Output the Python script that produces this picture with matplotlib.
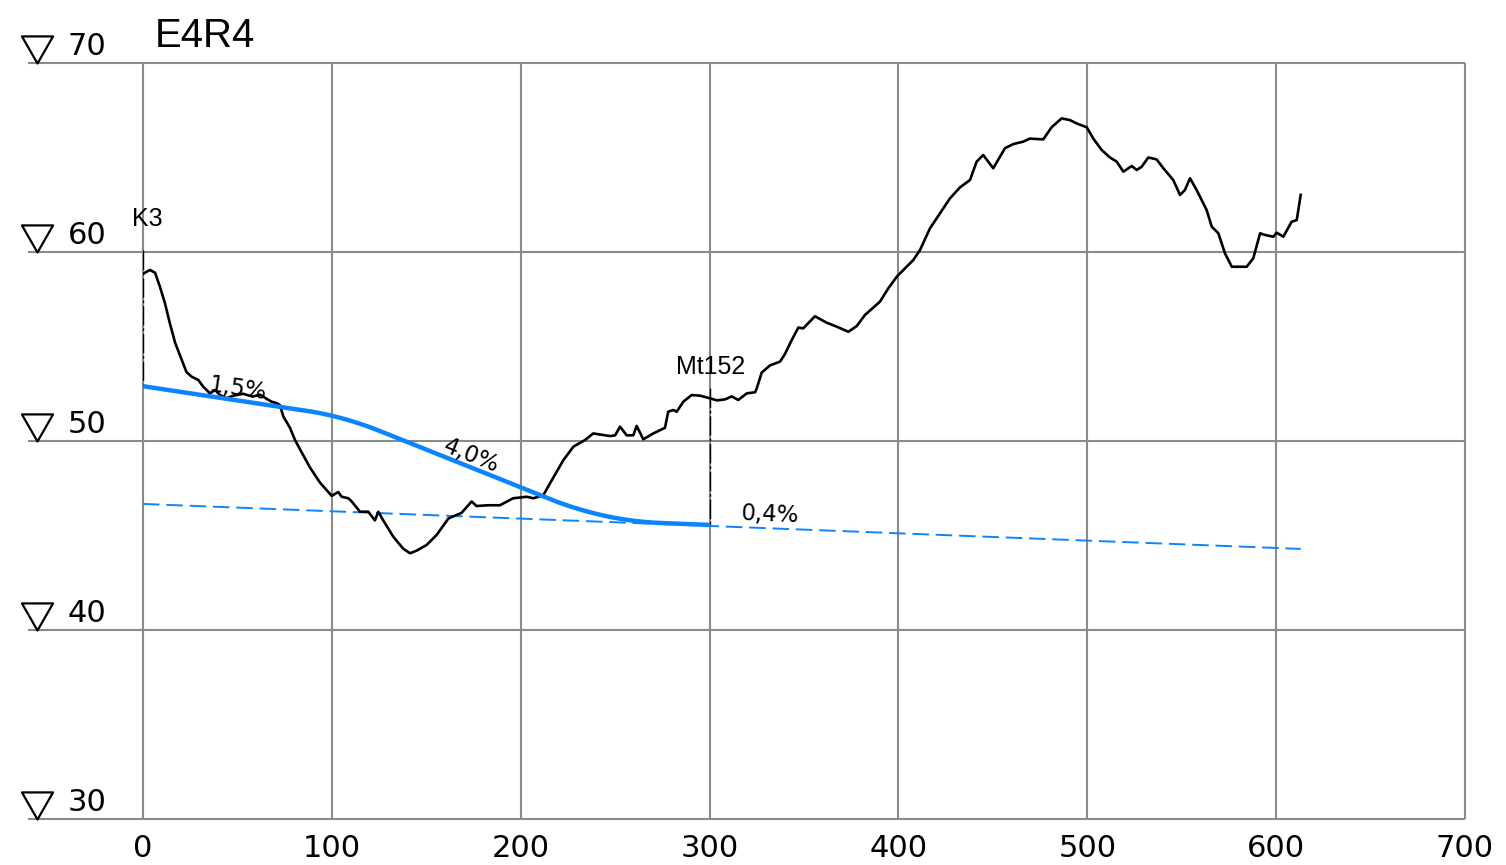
import numpy as np
import matplotlib
matplotlib.use("Agg")
import matplotlib.pyplot as plt
from matplotlib.path import Path

# ---------------- data ----------------
title = "E4R4"
x_ticks = [0, 100, 200, 300, 400, 500, 600, 700]
y_ticks = [30, 40, 50, 60, 70]

ground_sta = [0, 3.7, 6.4, 9, 11.6, 14.3, 17, 20.5, 23, 25.8, 29.3, 31.9, 35.5, 38.1,
              40.8, 44.3, 48, 53, 58, 62, 66, 68.1, 70.8, 72.5, 74.3, 77.8, 80.5, 84,
              88.4, 93.7, 99.9, 103.4, 105.2, 108.7, 110.5, 114.9, 119.3, 122.8, 124.6,
              127.2, 132.5, 137.8, 141.4, 144.9, 150.2, 155.5, 161.7, 168.7, 174, 176.6,
              182.8, 189, 196, 203.2, 206.7, 212, 215.5, 222.6, 227.9, 234, 238.4, 247.3,
              250, 252.6, 256.1, 259.6, 261.4, 264.9, 270.2, 276.4, 278.1, 280.8, 282.6,
              286.1, 290.5, 294.9, 300.2, 303.8, 308.2, 311.7, 315.2, 319.7, 324.1, 325,
              327.6, 332, 337.3, 339.9, 343.5, 347, 349.6, 355.8, 362, 367.3, 373.5,
              377.9, 382.3, 390.2, 394.6, 399.1, 407.9, 411.4, 416.7, 422, 427.3, 432.6,
              437.9, 441.4, 444.9, 450.2, 456.4, 460.8, 466.1, 469.6, 476.7, 481.1, 486.4,
              490.8, 494.4, 499.7, 503.2, 507.6, 512, 515.6, 519.1, 523.5, 526.2, 528.8,
              532.3, 536.7, 540.3, 545.5, 549.1, 551.7, 554.4, 557.9, 563.2, 565.9, 569.4,
              572.9, 576.5, 584.4, 587.9, 591.5, 594.1, 598.5, 600.3, 603.8, 608.2, 610.9,
              613]
ground_elev = [58.85, 59.05, 58.9, 58.15, 57.3, 56.2, 55.2, 54.3, 53.65, 53.4, 53.23, 52.87,
               52.52, 52.7, 52.43, 52.26, 52.4, 52.5, 52.35, 52.45, 52.2, 52.08, 52.0, 51.9,
               51.3, 50.7, 50.05, 49.4, 48.6, 47.8, 47.1, 47.3, 47.05, 46.97, 46.8, 46.26,
               46.26, 45.8, 46.26, 45.8, 44.94, 44.3, 44.06, 44.2, 44.5, 45.03, 45.9, 46.2,
               46.8, 46.56, 46.6, 46.6, 46.97, 47.05, 46.97, 47.14, 47.76, 48.99, 49.7, 50.05,
               50.4, 50.26, 50.3, 50.76, 50.3, 50.3, 50.8, 50.09, 50.4, 50.7, 51.55, 51.64,
               51.55, 52.08, 52.43, 52.4, 52.26, 52.15, 52.2, 52.36, 52.17, 52.52, 52.58,
               52.79, 53.62, 54.0, 54.2, 54.6, 55.34, 56.0, 55.96, 56.6, 56.26, 56.05, 55.78,
               56.08, 56.67, 57.37, 58.07, 58.69, 59.58, 60.1, 61.25, 62.05, 62.84, 63.42,
               63.81, 64.78, 65.13, 64.43, 65.49, 65.71, 65.84, 66.0, 65.96, 66.6, 67.07,
               66.98, 66.8, 66.6, 66.0, 65.4, 65.0, 64.78, 64.25, 64.55, 64.34, 64.51, 65.0,
               64.9, 64.43, 63.81, 63.02, 63.28, 63.9, 63.28, 62.22, 61.34, 60.99, 59.93,
               59.22, 59.22, 59.67, 60.99, 60.9, 60.81, 61.02, 60.81, 61.6, 61.69, 63.02]

# design grade line (PVIs with vertical curve lengths)
pvi_sta = [0, 105.9, 244.1, 300]
pvi_elev = [52.9, 51.31, 45.78, 45.56]
curve_len = [0, 40, 60, 0]

# extended 0.4 % grade (dashed)
ext_sta = [0, 613]
ext_elev = [46.67, 44.29]

# station markers: name, station, top elevation, bottom elevation
markers = [("K3", 0, 60.1, 52.9), ("Mt152", 300, 52.8, 45.56)]

# grade labels: text, station, elevation, grade in %
grade_labels = [("1,5%", 50.3, 52.75, -1.5), ("4,0%", 174, 49.2, -4.0), ("0,4%", 332, 46.1, -0.4)]

# ---------------- helpers ----------------
def design_profile(stations):
    s = np.asarray(stations, dtype=float)
    ps = np.asarray(pvi_sta, float)
    pe = np.asarray(pvi_elev, float)
    elev = np.interp(s, ps, pe)
    grades = np.diff(pe) / np.diff(ps)
    for i in range(1, len(ps) - 1):
        L = curve_len[i]
        if L <= 0:
            continue
        g1, g2 = grades[i - 1], grades[i]
        bvc = ps[i] - L / 2
        ebvc = pe[i] - g1 * L / 2
        m = (s >= bvc) & (s <= ps[i] + L / 2)
        x = s[m] - bvc
        elev[m] = ebvc + g1 * x + (g2 - g1) / (2 * L) * x ** 2
    return elev

# ---------------- figure ----------------
W, H, DPI = 1506, 865, 100
fig = plt.figure(figsize=(W / DPI, H / DPI), dpi=DPI)
ax_l, ax_r, ax_t, ax_b = 143, 1465, 63, 819
ax = fig.add_axes([ax_l / W, 1 - ax_b / H, (ax_r - ax_l) / W, (ax_b - ax_t) / H])
ax.set_xlim(0, 700)
ax.set_ylim(30, 70)
for sp in ax.spines.values():
    sp.set_visible(False)
ax.set_xticks([])
ax.set_yticks([])

px_per_x = (ax_r - ax_l) / 700.0
px_per_y = (ax_b - ax_t) / 40.0

grid_c = "#8a8a8a"
grid_lw = 1.5
x_left_ext = (28 - ax_l) / px_per_x
for yv in y_ticks:
    ax.plot([x_left_ext, 700], [yv, yv], color=grid_c, lw=grid_lw, clip_on=False, zorder=1,
            solid_capstyle="butt")
for xv in x_ticks:
    ax.plot([xv, xv], [30, 70], color=grid_c, lw=grid_lw, clip_on=False, zorder=1,
            solid_capstyle="butt")

# y tick labels with triangle symbols
tri = Path([(-0.574, 1.0), (0.574, 1.0), (0.0, 0.0), (-0.574, 1.0)],
           [Path.MOVETO, Path.LINETO, Path.LINETO, Path.CLOSEPOLY])
tri_x = (37 - ax_l) / px_per_x
lab_x = (68 - ax_l) / px_per_x
for yv in y_ticks:
    ax.plot([tri_x], [yv], marker=tri, markersize=39, markerfacecolor="none",
            markeredgecolor="black", markeredgewidth=1.6, clip_on=False, zorder=5)
    ax.text(lab_x, yv + 8 / px_per_y, str(yv), fontsize=22, family="DejaVu Sans",
            ha="left", va="baseline", clip_on=False)

# x tick labels
for xv in x_ticks:
    ax.text(xv, 30 - 38 / px_per_y, str(xv), fontsize=22, family="DejaVu Sans",
            ha="center", va="baseline", clip_on=False)

# title
ax.text((155 - ax_l) / px_per_x, 70 + (63 - 47) / px_per_y, title, fontsize=29,
        family="Liberation Sans", ha="left", va="baseline", clip_on=False)

# ground line
ax.plot(ground_sta, ground_elev, color="black", lw=1.9, zorder=4, solid_joinstyle="round")

# extended dashed grade
ax.plot(ext_sta, ext_elev, color="#0a84ff", lw=1.4, linestyle=(0, (8.5, 3.5)), zorder=3)

# design line
s = np.linspace(pvi_sta[0], pvi_sta[-1], 601)
ax.plot(s, design_profile(s), color="#0a84ff", lw=3.2, zorder=6, solid_capstyle="butt")

# station markers
for name, st, top, bot in markers:
    ax.plot([st, st], [top, bot], color="black", lw=1.0, linestyle=(0, (14, 2, 2, 2)), zorder=5)
    ax.text(st + (0.5 if st > 0 else 2.5), top + (0.75 if st > 0 else 1.3), name, fontsize=18,
            family="Liberation Sans", ha="center", va="baseline", clip_on=False)

# grade labels
slope_px = px_per_y / px_per_x
for txt, st, el, g in grade_labels:
    ang = np.degrees(np.arctan(g / 100.0 * slope_px))
    ax.text(st, el, txt, fontsize=16.5, family="DejaVu Sans", ha="center", va="center",
            rotation=ang, rotation_mode="anchor", zorder=7)

fig.savefig("out.png", dpi=DPI)
